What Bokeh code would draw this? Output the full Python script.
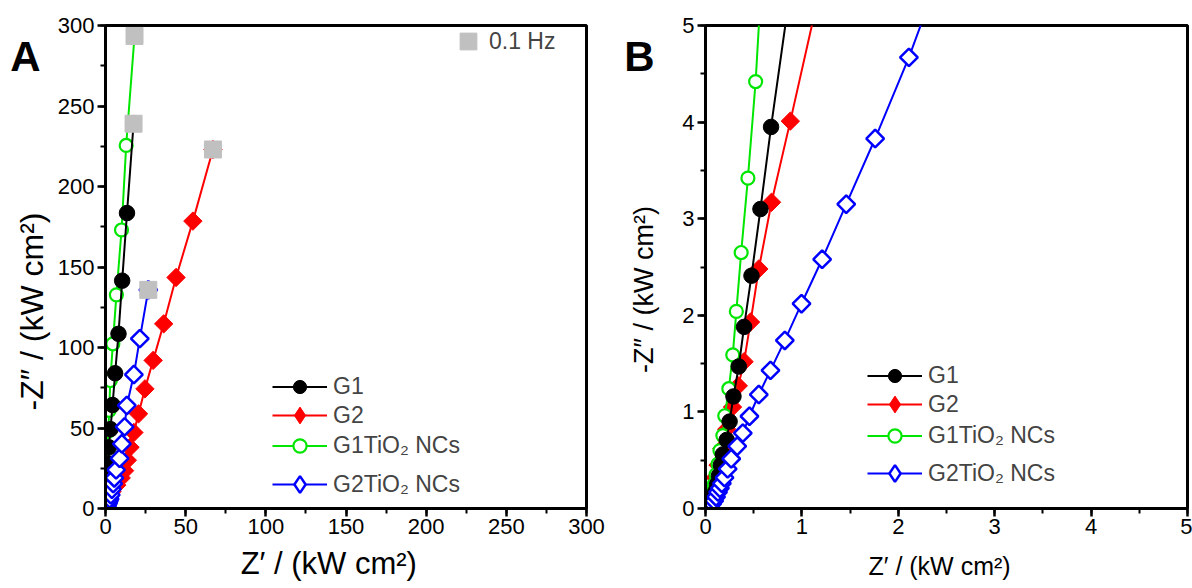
import numpy as np
from bokeh.plotting import figure
from bokeh.models import Range1d, SingleIntervalTicker, FixedTicker, LinearAxis, Legend, LegendItem
from bokeh.layouts import row
from bokeh.embed import file_html
from bokeh.resources import INLINE

FONT = "Liberation Sans"
NB = "\u00a0"

# ---- data (Z' , -Z'' in kW cm2) ----
g1_x = [0.05, 0.06, 0.08, 0.10, 0.12, 0.14, 0.16, 0.18, 0.22, 0.25, 0.29, 0.345, 0.40, 0.477, 0.57, 0.68,
        1.25, 1.4, 1.6, 1.85, 2.1, 3.1, 4.4, 6.0, 8.1, 10.4, 13.4, 17.5]
g1_y = [0.01, 0.05, 0.10, 0.17, 0.25, 0.34, 0.45, 0.56, 0.71, 0.90, 1.16, 1.47, 1.88, 2.41, 3.10, 3.95,
        8.0, 13, 20, 28, 38, 49.3, 64.3, 84, 108.5, 141.5, 183.5, 239]

g2_x = [0.04, 0.05, 0.065, 0.08, 0.10, 0.13, 0.17, 0.22, 0.28, 0.34, 0.40, 0.467, 0.553, 0.685, 0.88,
        1.6, 4.0, 7.0, 9.8, 11.9, 13.6, 15.3, 17.7, 20.6, 24.6, 29.7, 36.3, 44.0, 54.5, 67.0]
g2_y = [0.01, 0.05, 0.12, 0.21, 0.32, 0.45, 0.62, 0.82, 1.05, 1.27, 1.52, 1.93, 2.48, 3.17, 4.01,
        7.2, 10.5, 14.5, 19, 23.5, 30, 38, 47.2, 58.8, 74.3, 92, 114.7, 143.5, 178.5, 223]

g1t_x = [0.03, 0.04, 0.05, 0.07, 0.09, 0.11, 0.13, 0.15, 0.18, 0.20, 0.242, 0.283, 0.32, 0.37, 0.44, 0.52,
         0.9, 1.1, 1.3, 1.5, 1.8, 2.3, 3.0, 4.6, 6.8, 10.0, 12.9, 18.1]
g1t_y = [0.01, 0.04, 0.09, 0.16, 0.25, 0.35, 0.46, 0.60, 0.755, 0.96, 1.24, 1.59, 2.04, 2.65, 3.42, 4.42,
         11, 19, 28, 38, 48, 61, 79.5, 102.3, 132.7, 173, 225.5, 293.5]

g2t_x = [0.03, 0.05, 0.07, 0.09, 0.11, 0.13, 0.15, 0.17, 0.197, 0.23, 0.267, 0.329, 0.387, 0.456, 0.553,
         0.674, 0.823, 0.996, 1.21, 1.46, 1.76, 2.11, 2.6, 3.3, 4.0, 4.8, 5.5, 6.6, 8.8, 10.2, 11.9, 13.3,
         17.7, 21.4, 26.7]
g2t_y = [0.00, 0.02, 0.05, 0.08, 0.12, 0.17, 0.21, 0.26, 0.32, 0.41, 0.515, 0.645, 0.78, 0.955, 1.18,
         1.43, 1.74, 2.12, 2.58, 3.15, 3.83, 4.67, 6.0, 8.5, 12, 15.5, 19, 24, 31.2, 40.2, 50.7, 64,
         83.2, 105.5, 135.8]

# 0.1 Hz points = last point of each series
hz_x = [g1_x[-1], g2_x[-1], g1t_x[-1], g2t_x[-1]]
hz_y = [g1_y[-1], g2_y[-1], g1t_y[-1], g2t_y[-1]]

labels = ["G1", "G2", "G1TiO\u2082 NCs", "G2TiO\u2082 NCs"]
x_title = "Z\u2032 / (kW cm\u00b2)"
y_title = "-Z\u2033 / (kW cm\u00b2)"

H = 588
TOP = 25
FRAME_H = 483


def make_panel(xmax, interval, width, bl, br, letter, letter_pos, leg_vx, leg_cy, xfont, yfont,
               title_pad, xlab_standoff, ylab_standoff, hz=False):
    p = figure(width=width, height=H, output_backend="svg", toolbar_location=None,
               x_range=Range1d(0, xmax), y_range=Range1d(0, xmax),
               min_border_left=bl, min_border_right=br, min_border_top=TOP,
               min_border_bottom=H - TOP - FRAME_H)
    p.xgrid.visible = False
    p.ygrid.visible = False
    p.outline_line_color = "black"
    p.outline_line_width = 3
    p.outline_line_alpha = 1
    p.background_fill_color = "white"
    p.border_fill_color = "white"
    for ax, fs in ((p.xaxis[0], xfont), (p.yaxis[0], yfont)):
        ax.ticker = SingleIntervalTicker(interval=interval, num_minor_ticks=2)
        ax.axis_line_width = 3
        ax.major_tick_line_width = 2.5
        ax.minor_tick_line_width = 2
        ax.major_tick_out = 8
        ax.major_tick_in = 0
        ax.minor_tick_out = 5
        ax.minor_tick_in = 0
        ax.major_label_text_font = FONT
        ax.major_label_text_font_size = "22px"
        ax.major_label_standoff = 3
        ax.major_label_text_color = "black"
        ax.axis_label_text_font = FONT
        ax.axis_label_text_font_size = f"{fs}px"
        ax.axis_label_text_font_style = "normal"
        ax.axis_label_text_color = "black"
    p.xaxis[0].major_label_standoff = 2
    p.xaxis[0].axis_label = x_title + NB * title_pad[0]
    p.yaxis[0].axis_label = y_title + NB * title_pad[1]
    p.xaxis[0].axis_label_standoff = xlab_standoff
    p.yaxis[0].axis_label_standoff = ylab_standoff

    # panel letter as an extra (line-less) left axis label
    lax = LinearAxis(ticker=FixedTicker(ticks=[letter_pos[0]]),
                     major_label_overrides={letter_pos[0]: letter})
    lax.axis_line_color = None
    lax.major_tick_line_color = None
    lax.minor_tick_line_color = None
    lax.major_tick_out = 0
    lax.major_tick_in = 0
    lax.minor_tick_out = 0
    lax.major_label_standoff = letter_pos[1]
    lax.major_label_text_font = FONT
    lax.major_label_text_font_size = "42px"
    lax.major_label_text_font_style = "bold"
    lax.major_label_text_color = "black"
    p.add_layout(lax, "left")

    lr = p.line(g2_x, g2_y, color="red", line_width=2)
    p.scatter(g2_x, g2_y, marker="square", angle=np.pi / 4, size=13, fill_color="red",
              line_color="red", line_width=1)
    lgn = p.line(g1t_x, g1t_y, color="#00e600", line_width=2)
    sgn = p.scatter(g1t_x, g1t_y, marker="circle", size=13, fill_color="white",
                    line_color="#00e600", line_width=2.2)
    lk = p.line(g1_x, g1_y, color="black", line_width=2)
    sk = p.scatter(g1_x, g1_y, marker="circle", size=15.5, fill_color="black", line_color="black")
    lb = p.line(g2t_x, g2t_y, color="blue", line_width=2)
    p.scatter(g2t_x, g2t_y, marker="square", angle=np.pi / 4, size=12.5, fill_color="white",
              line_color="blue", line_width=2.5)
    # legend-only diamond keys (hidden renderers using the same series)
    dr = p.scatter(g2_x, g2_y, marker="diamond", fill_color="red", line_color="red", visible=False)
    db = p.scatter(g2t_x, g2t_y, marker="diamond", fill_color="white", line_color="blue",
                   line_width=2.5, visible=False)

    fb = TOP + FRAME_H
    items = [([lk, sk], 33), ([lr, dr], 42), ([lgn, sgn], 33), ([lb, db], 42)]
    for (rends, gh), lab, cy in zip(items, labels, leg_cy):
        leg = Legend(items=[LegendItem(label=lab, renderers=rends)],
                     location=(leg_vx, fb - (cy + gh / 2)), glyph_width=55, glyph_height=gh,
                     spacing=0, padding=0, margin=0, label_standoff=6, label_text_font=FONT,
                     label_text_font_size="23px", background_fill_alpha=0, border_line_alpha=0,
                     inactive_fill_alpha=0)
        p.add_layout(leg)
    if hz:
        sg = p.scatter(hz_x, hz_y, marker="square", size=17, fill_color="#c0c0c0",
                       line_color="#c0c0c0")
        leg3 = Legend(items=[LegendItem(label="0.1 Hz", renderers=[sg])], location=(342, 446),
                      glyph_width=42, glyph_height=42, padding=0, margin=0, label_standoff=-8,
                      label_text_font=FONT, label_text_font_size="23px", background_fill_alpha=0,
                      border_line_alpha=0)
        p.add_layout(leg3)
    return p


pA = make_panel(300, 50, 606, 105, 20, "A", (281, -30), 167, [386, 415, 445, 484], 31, 32,
                (4, 10), 9, 5, hz=True)
pB = make_panel(5, 1, 586, 99, 5, "B", (4.68, -28), 162, [375, 404, 435, 473], 25, 27,
                (2, 6), 15, 20, hz=False)

layout = row(pA, pB)
open("out.html", "w").write(file_html(layout, INLINE))
